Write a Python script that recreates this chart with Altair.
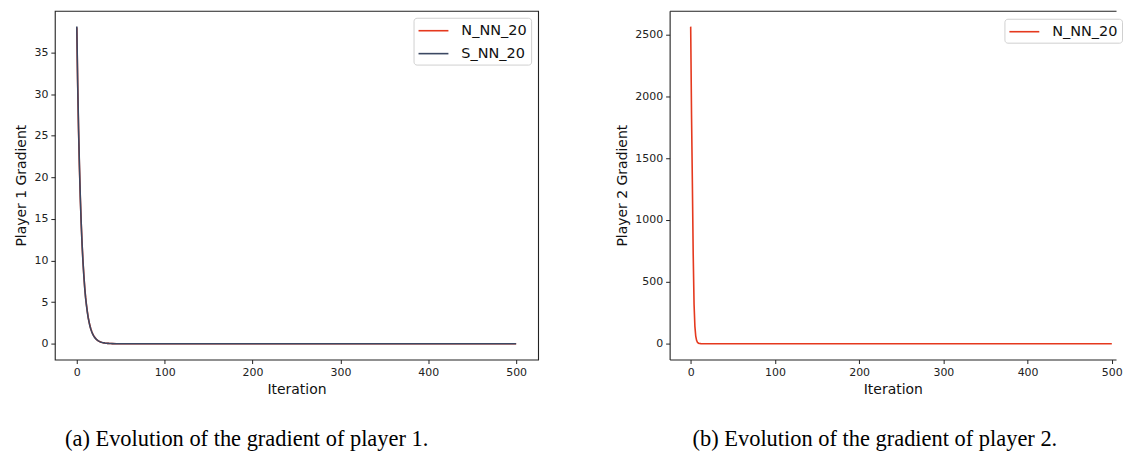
import altair as alt
import pandas as pd

# ---- Player 1 data ----
iter_p1 = [0, 1, 2, 3, 4, 5, 6, 7, 8, 9, 10, 11, 12, 13, 14, 15, 16, 17, 18, 19, 20,
           21, 22, 23, 24, 25, 26, 27, 28, 29, 30, 31, 32, 33, 34, 35, 36, 37, 38, 39, 40,
           45, 50, 60, 80, 100, 150, 200, 250, 300, 350, 400, 450, 500]
n_nn_20_p1 = [38.0, 31.1, 25.6, 21.2, 17.5, 14.5, 12.0, 9.95, 8.25, 6.8, 5.6,
              4.65, 3.85, 3.15, 2.6, 2.15, 1.78, 1.47, 1.21, 1.0, 0.83,
              0.68, 0.56, 0.46, 0.38, 0.31, 0.26, 0.21, 0.17, 0.14, 0.12,
              0.1, 0.08, 0.066, 0.054, 0.045, 0.037, 0.03, 0.025, 0.02, 0.017,
              0.006, 0.002, 0.0, 0.0, 0.0, 0.0, 0.0, 0.0, 0.0, 0.0, 0.0, 0.0, 0.0]
s_nn_20_p1 = [38.1, 31.4, 25.9, 21.4, 17.6, 14.5, 12.0, 9.9, 8.2, 6.7, 5.5,
              4.6, 3.8, 3.1, 2.6, 2.1, 1.75, 1.44, 1.19, 0.98, 0.81,
              0.67, 0.55, 0.45, 0.37, 0.31, 0.25, 0.21, 0.17, 0.14, 0.12,
              0.1, 0.08, 0.066, 0.054, 0.045, 0.037, 0.03, 0.025, 0.02, 0.017,
              0.006, 0.002, 0.0, 0.0, 0.0, 0.0, 0.0, 0.0, 0.0, 0.0, 0.0, 0.0, 0.0]

# ---- Player 2 data ----
iter_p2 = [0, 1, 2, 3, 4, 5, 6, 7, 8, 9, 10, 11, 12, 13, 14, 15, 16, 17, 18, 19, 20,
           25, 30, 40, 50, 100, 150, 200, 250, 300, 350, 400, 450, 500]
n_nn_20_p2 = [2563, 1850, 1300, 720, 320, 140, 62, 27, 12, 5.2, 2.3,
              1.0, 0.45, 0.2, 0.09, 0.04, 0.02, 0.01, 0.005, 0.002, 0.001,
              0, 0, 0, 0, 0, 0, 0, 0, 0, 0, 0, 0, 0]

x_ticks = [0, 100, 200, 300, 400, 500]
y1_ticks = [0, 5, 10, 15, 20, 25, 30, 35]
y2_ticks = [0, 500, 1000, 1500, 2000, 2500]

captions = ["(a) Evolution of the gradient of player 1.",
            "(b) Evolution of the gradient of player 2."]

RED = "#e5391e"
DARK = "#3b4863"
FRAME = "#222"

df1 = pd.concat([
    pd.DataFrame({"Iteration": iter_p1, "value": n_nn_20_p1, "series": "N_NN_20"}),
    pd.DataFrame({"Iteration": iter_p1, "value": s_nn_20_p1, "series": "S_NN_20"}),
])
df2 = pd.DataFrame({"Iteration": iter_p2, "value": n_nn_20_p2, "series": "N_NN_20"})

legend_style = dict(title=None, symbolType="M-1,0H2.75", symbolSize=256,
                    symbolStrokeWidth=1.6, labelFontSize=14.5, labelFont="DejaVu Sans",
                    labelColor="#111", fillColor="white", strokeColor="#d0d0d0",
                    cornerRadius=3, padding=4, rowPadding=7, labelOffset=26)

cap_style = dict(orient="bottom", anchor="middle", frame="group", offset=32,
                 font="Liberation Serif", fontSize=22.5, fontWeight="normal", color="black")

# ---- left panel ----
left = alt.Chart(df1).mark_line(strokeWidth=1.6).encode(
    x=alt.X("Iteration:Q", scale=alt.Scale(domain=[-25, 525], nice=False, zero=False),
            axis=alt.Axis(values=x_ticks, title="Iteration", format="d")),
    y=alt.Y("value:Q", scale=alt.Scale(domain=[-1.9, 40.0], nice=False, zero=False),
            axis=alt.Axis(values=y1_ticks, title="Player 1 Gradient", format="d")),
    color=alt.Color("series:N", scale=alt.Scale(domain=["N_NN_20", "S_NN_20"], range=[RED, DARK]),
                    legend=alt.Legend(orient="top-right", offset=7, **legend_style)),
    order=alt.Order("series:N"),
).properties(width=485, height=350,
             view=alt.ViewBackground(stroke=FRAME, strokeWidth=1.1),
             title=alt.TitleParams(captions[0], dx=-50, **cap_style))

# ---- right panel (its right edge is cut off, as in the original figure) ----
x2_scale = alt.Scale(domain=[-25, 505], nice=False, zero=False)
y2_enc = alt.Y("value:Q", scale=alt.Scale(domain=[-128, 2691], nice=False, zero=False),
               axis=alt.Axis(values=y2_ticks, title="Player 2 Gradient", format="d",
                             domain=True, domainColor=FRAME, domainWidth=1.1))
base2 = alt.Chart(df2)
line2 = base2.mark_line(strokeWidth=1.6).encode(
    x=alt.X("Iteration:Q", scale=x2_scale,
            axis=alt.Axis(values=x_ticks, title="Iteration", format="d",
                          domain=True, domainColor=FRAME, domainWidth=1.1)),
    y=y2_enc,
    color=alt.Color("series:N", scale=alt.Scale(domain=["N_NN_20"], range=[RED]),
                    legend=alt.Legend(orient="none", legendX=336, legendY=8, **legend_style)),
)
top2 = base2.mark_line(strokeOpacity=0).encode(
    x=alt.X("Iteration:Q", scale=x2_scale,
            axis=alt.Axis(orient="top", labels=False, ticks=False, title="",
                          domain=True, domainColor=FRAME, domainWidth=1.1)),
    y=y2_enc,
)
right = alt.layer(line2, top2).resolve_axis(x="independent").properties(
    width=448, height=350,
    view=alt.ViewBackground(stroke="transparent"),
    title=alt.TitleParams(captions[1], dx=-18, **cap_style))

chart = alt.hconcat(left, right, spacing=76).resolve_scale(color="independent").properties(
    padding={"left": 6, "top": 1, "right": 0, "bottom": 0}, background="white"
).configure_axis(
    grid=False, domain=False, tickColor=FRAME, tickSize=4, labelPadding=3,
    labelFont="DejaVu Sans", labelFontSize=11, labelColor="#222",
    titleFont="DejaVu Sans", titleFontSize=14, titleFontWeight="normal", titleColor="#111",
    titlePadding=5,
)

chart.save("out.html", embed_options={"renderer": "svg", "actions": False})
